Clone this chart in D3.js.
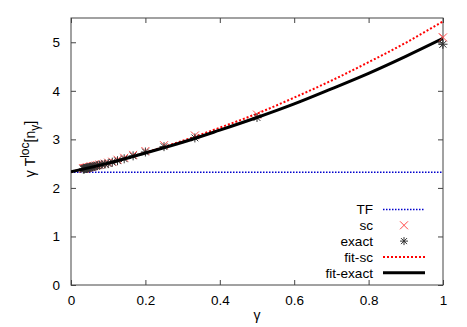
<!DOCTYPE html>
<html>
<head>
<script src="https://d3js.org/d3.v7.min.js"></script>
<style>
  body { margin: 0; background: #fff; }
  text { font-family: "Liberation Sans", Arial, sans-serif; font-size: 13px; fill: #000; }
</style>
</head>
<body>
<svg width="467" height="327"></svg>
<script>
// gamma values of the data points
var gammas = [1, 0.5, 0.333, 0.25, 0.2, 0.167, 0.143, 0.125, 0.111, 0.1,
              0.091, 0.083, 0.077, 0.071, 0.067, 0.0625, 0.059, 0.056, 0.053, 0.05,
              0.048, 0.045, 0.043, 0.042, 0.04, 0.038, 0.037, 0.036, 0.034, 0.033];
var exactVals = [4.96, 3.45, 3.03, 2.85, 2.74, 2.66, 2.60, 2.56, 2.53, 2.50,
                 2.49, 2.48, 2.47, 2.46, 2.45, 2.44, 2.44, 2.43, 2.43, 2.42,
                 2.42, 2.41, 2.41, 2.41, 2.40, 2.40, 2.40, 2.39, 2.39, 2.39];
var scVals = [5.10, 3.51, 3.08, 2.88, 2.76, 2.68, 2.62, 2.58, 2.54, 2.52,
              2.50, 2.49, 2.48, 2.47, 2.46, 2.45, 2.45, 2.44, 2.44, 2.43,
              2.43, 2.42, 2.42, 2.41, 2.41, 2.41, 2.40, 2.40, 2.40, 2.40];

// fitted curves, read at these gamma values
var fitGammas = [0, 0.1, 0.2, 0.3, 0.4, 0.5, 0.6, 0.7, 0.8, 0.9, 1];
var fitExact = [2.33, 2.51, 2.72, 2.94, 3.19, 3.45, 3.73, 4.04, 4.36, 4.71, 5.08];
var fitSc    = [2.33, 2.51, 2.73, 2.97, 3.24, 3.53, 3.86, 4.21, 4.59, 4.99, 5.43];
var tfValue = 2.32;

var xTicks = [0, 0.2, 0.4, 0.6, 0.8, 1];
var yTicks = [0, 1, 2, 3, 4, 5];

var svg = d3.select("svg"),
    margin = {top: 18, right: 24, bottom: 42, left: 71},
    width = 467 - margin.left - margin.right,
    height = 327 - margin.top - margin.bottom;

var x = d3.scaleLinear().domain([0, 1]).range([0, width]);
var y = d3.scaleLinear().domain([0, 5.5]).range([height, 0]);

var g = svg.append("g")
    .attr("transform", "translate(" + margin.left + "," + margin.top + ")");

svg.append("defs").append("clipPath").attr("id", "clip")
    .append("rect").attr("width", width).attr("height", height);

// axes with inward ticks, mirrored
var tickLen = 5;
var axisColor = "#444";
function styleAxis(sel) {
    sel.select(".domain").remove();
    sel.selectAll("line").attr("stroke", axisColor);
    sel.selectAll("text").style("font-size", "13.5px");
}
g.append("g").attr("transform", "translate(0," + height + ")")
    .call(d3.axisBottom(x).tickValues(xTicks).tickFormat(d3.format("")).tickSizeInner(-tickLen).tickPadding(10))
    .call(styleAxis);
g.append("g")
    .call(d3.axisTop(x).tickValues(xTicks).tickFormat("").tickSizeInner(-tickLen))
    .call(styleAxis);
g.append("g")
    .call(d3.axisLeft(y).tickValues(yTicks).tickFormat(d3.format("d")).tickSizeInner(-tickLen).tickPadding(11))
    .call(styleAxis);
g.append("g").attr("transform", "translate(" + width + ",0)")
    .call(d3.axisRight(y).tickValues(yTicks).tickFormat("").tickSizeInner(-tickLen))
    .call(styleAxis);

g.append("rect").attr("width", width).attr("height", height)
    .attr("fill", "none").attr("stroke", axisColor).attr("stroke-width", 1);

var plot = g.append("g").attr("clip-path", "url(#clip)");

// TF line
plot.append("line")
    .attr("x1", x(0)).attr("x2", x(1))
    .attr("y1", y(tfValue)).attr("y2", y(tfValue))
    .attr("stroke", "#0000cc").attr("stroke-width", 1.5)
    .attr("stroke-dasharray", "1.5,1.5");

var line = d3.line()
    .x(function(d) { return x(d[0]); })
    .y(function(d) { return y(d[1]); })
    .curve(d3.curveMonotoneX);

var scColor = "#ff4a4a", starColor = "#333";
var cross = 4;
function crossPath(px, py, r) {
    return "M" + (px - r) + "," + (py - r) + "L" + (px + r) + "," + (py + r) +
           "M" + (px - r) + "," + (py + r) + "L" + (px + r) + "," + (py - r);
}
function starPath(px, py, r) {
    var d = r * 0.75;
    return "M" + (px - r) + "," + py + "L" + (px + r) + "," + py +
           "M" + px + "," + (py - r) + "L" + px + "," + (py + r) +
           "M" + (px - d) + "," + (py - d) + "L" + (px + d) + "," + (py + d) +
           "M" + (px - d) + "," + (py + d) + "L" + (px + d) + "," + (py - d);
}

// sc points
var scG = plot.append("g");
gammas.forEach(function(gm, i) {
    scG.append("path")
        .attr("d", crossPath(x(gm), y(scVals[i]), cross))
        .attr("stroke", scColor).attr("stroke-width", 1).attr("fill", "none");
});

// fit-sc
plot.append("path")
    .datum(fitGammas.map(function(d, i) { return [d, fitSc[i]]; }))
    .attr("d", line).attr("fill", "none")
    .attr("stroke", "#ff0000").attr("stroke-width", 2)
    .attr("stroke-dasharray", "2,2");

// exact points (star)
var starG = plot.append("g");
gammas.forEach(function(gm, i) {
    starG.append("path")
        .attr("d", starPath(x(gm), y(exactVals[i]), 4.5))
        .attr("stroke", starColor).attr("stroke-width", 1).attr("fill", "none");
});

// fit-exact
plot.append("path")
    .datum(fitGammas.map(function(d, i) { return [d, fitExact[i]]; }))
    .attr("d", line).attr("fill", "none")
    .attr("stroke", "#000").attr("stroke-width", 3);

// points at gamma = 1 drawn over the right edge (outside clip)
g.append("path")
    .attr("d", crossPath(x(gammas[0]), y(scVals[0]), cross))
    .attr("stroke", scColor).attr("stroke-width", 1).attr("fill", "none");
g.append("path")
    .attr("d", starPath(x(gammas[0]), y(exactVals[0]), 4.5))
    .attr("stroke", starColor).attr("stroke-width", 1).attr("fill", "none");

// legend
var legend = [
    {label: "TF", type: "tf"},
    {label: "sc", type: "sc"},
    {label: "exact", type: "exact"},
    {label: "fit-sc", type: "fitsc"},
    {label: "fit-exact", type: "fitexact"}
];
var lg = svg.append("g");
var lx = 373, ly0 = 209.5, lstep = 15.8, s0 = 383, s1 = 425;
legend.forEach(function(d, i) {
    var yy = ly0 + i * lstep;
    lg.append("text").attr("x", lx).attr("y", yy).attr("dy", "0.36em")
        .attr("text-anchor", "end").style("font-size", "13.6px").text(d.label);
    var mx = (s0 + s1) / 2;
    if (d.type === "tf") {
        lg.append("line").attr("x1", s0).attr("x2", s1).attr("y1", yy).attr("y2", yy)
            .attr("stroke", "#0000cc").attr("stroke-width", 1.5).attr("stroke-dasharray", "1.5,1.5");
    } else if (d.type === "sc") {
        lg.append("path").attr("d", crossPath(mx, yy, cross))
            .attr("stroke", scColor).attr("stroke-width", 1).attr("fill", "none");
    } else if (d.type === "exact") {
        lg.append("path").attr("d", starPath(mx, yy, 4))
            .attr("stroke", starColor).attr("stroke-width", 1).attr("fill", "none");
    } else if (d.type === "fitsc") {
        lg.append("line").attr("x1", s0).attr("x2", s1).attr("y1", yy).attr("y2", yy)
            .attr("stroke", "#ff0000").attr("stroke-width", 2).attr("stroke-dasharray", "2,2");
    } else {
        lg.append("line").attr("x1", s0).attr("x2", s1).attr("y1", yy).attr("y2", yy)
            .attr("stroke", "#000").attr("stroke-width", 3);
    }
});

// axis labels
svg.append("text").attr("x", margin.left + x(0.5)).attr("y", 320)
    .attr("text-anchor", "middle").style("font-size", "14px").text("γ");

var yl = svg.append("text")
    .attr("transform", "translate(35," + (margin.top + y(2.8)) + ") rotate(-90)")
    .attr("text-anchor", "middle").style("font-size", "14px");
yl.append("tspan").text("γ T");
yl.append("tspan").attr("dy", -6).style("font-size", "12px").text("loc");
yl.append("tspan").attr("dy", 6).text("[n");
yl.append("tspan").attr("dy", 4).style("font-size", "12px").text("γ");
yl.append("tspan").attr("dy", -4).text("]");
</script>
</body>
</html>
